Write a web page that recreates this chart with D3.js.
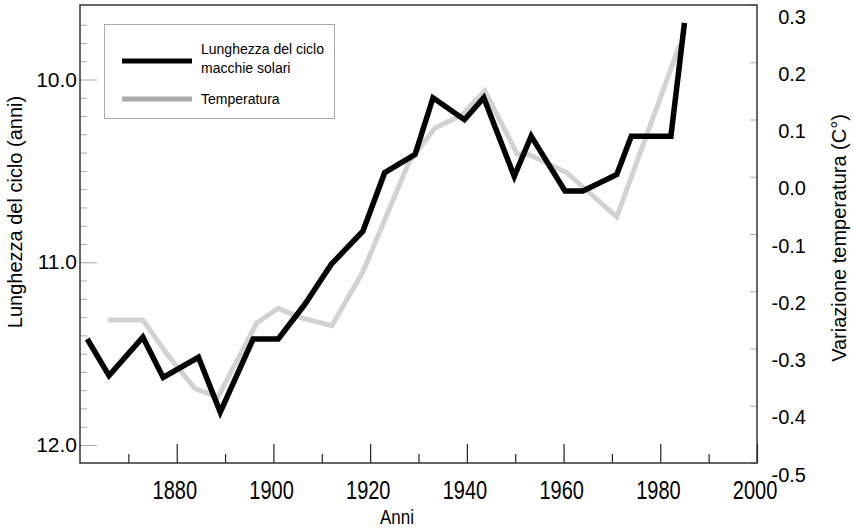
<!DOCTYPE html>
<html>
<head>
<meta charset="utf-8">
<script src="https://cdn.jsdelivr.net/npm/d3@7"></script>
<style>
  html, body { margin: 0; padding: 0; background: #fff; }
  svg { display: block; font-family: "Liberation Sans", Arial, sans-serif; }
</style>
</head>
<body>
<svg id="chart" width="854" height="530"></svg>
<script>
// ---- data ----
const cycleYears = [1861.5, 1866, 1873, 1877.2, 1884.5, 1889, 1895.8, 1901, 1906.5, 1912, 1918.5, 1923, 1929.3, 1933, 1939.5, 1943.5, 1949.8, 1953.3, 1960.3, 1964, 1971, 1974, 1982.2, 1985];
const cycleLength = [11.42, 11.62, 11.41, 11.63, 11.52, 11.82, 11.42, 11.42, 11.23, 11.01, 10.83, 10.51, 10.41, 10.10, 10.22, 10.10, 10.53, 10.31, 10.61, 10.61, 10.52, 10.31, 10.31, 9.69];

const tempYears = [1865.8, 1873, 1878, 1883.8, 1888.5, 1896.6, 1901, 1905.9, 1912.1, 1918.5, 1928, 1933.4, 1939, 1943.7, 1950.4, 1953, 1960.7, 1971, 1984];
const tempValues = [-0.25, -0.25, -0.31, -0.37, -0.385, -0.255, -0.23, -0.247, -0.26, -0.166, 0.025, 0.085, 0.108, 0.15, 0.04, 0.038, 0.007, -0.07, 0.23];

const xMajorTicks = [1880, 1900, 1920, 1940, 1960, 1980, 2000];
const xMinorTicks = [1870, 1890, 1910, 1930, 1950, 1970, 1990];
const leftMajorTicks = [10, 11, 12];
const leftMinorTicks = d3.range(97, 120).map(v => v / 10).filter(v => v % 1 !== 0);
const rightTicks = [0.3, 0.2, 0.1, 0.0, -0.1, -0.2, -0.3, -0.4, -0.5];

const legendLabels = [["Lunghezza del ciclo", "macchie solari"], ["Temperatura"]];
const xTitle = "Anni";
const leftTitle = "Lunghezza del ciclo (anni)";
const rightTitle = "Variazione temperatura (C°)";

// ---- layout ----
const L = 80, R = 757, T = 5, B = 463;
const svg = d3.select("#chart");

const x = d3.scaleLinear().domain([1860, 2000]).range([L, R]);
const yL = d3.scaleLinear().domain([10, 12]).range([79.5, 445]);
const yR = d3.scaleLinear().domain([-0.5, 0.3]).range([B, T]);

const fmt1 = d => d.toFixed(1);

// lines
const tempLine = d3.line().x((d, i) => x(tempYears[i])).y(d => yR(d));
const cycleLine = d3.line().x((d, i) => x(cycleYears[i])).y(d => yL(d));

svg.append("path").datum(tempValues)
  .attr("d", tempLine).attr("fill", "none")
  .attr("stroke", "#d2d2d2").attr("stroke-width", 5)
  .attr("stroke-linejoin", "miter");

svg.append("path").datum(cycleLength)
  .attr("d", cycleLine).attr("fill", "none")
  .attr("stroke", "#000").attr("stroke-width", 5.5)
  .attr("stroke-linejoin", "miter");

// left axis
const gLmin = svg.append("g").attr("transform", `translate(${L},0)`)
  .call(d3.axisLeft(yL).tickValues(leftMinorTicks).tickSize(-7).tickFormat(""));
const gLmaj = svg.append("g").attr("transform", `translate(${L},0)`)
  .call(d3.axisLeft(yL).tickValues(leftMajorTicks).tickSize(-17).tickPadding(3).tickFormat(fmt1));
[gLmin, gLmaj].forEach(g => {
  g.select(".domain").remove();
  g.selectAll("line").attr("stroke", "#aaa").attr("stroke-width", 1);
  g.selectAll("text").attr("font-size", 21).attr("fill", "#000");
});

// right axis
const gR = svg.append("g").attr("transform", `translate(${R},0)`)
  .call(d3.axisRight(yR).tickValues(rightTicks).tickSize(-7).tickPadding(0).tickFormat(fmt1));
gR.select(".domain").remove();
gR.selectAll("line").attr("stroke", "#aaa").attr("stroke-width", 1);
gR.selectAll("text").attr("font-size", 20).attr("fill", "#000")
  .attr("text-anchor", "end").attr("x", 49).attr("dy", "0.9em");

// bottom axis
const gBmin = svg.append("g").attr("transform", `translate(0,${B})`)
  .call(d3.axisBottom(x).tickValues(xMinorTicks).tickSize(-9).tickFormat(""));
const gBmaj = svg.append("g").attr("transform", `translate(0,${B})`)
  .call(d3.axisBottom(x).tickValues(xMajorTicks).tickSize(-19).tickPadding(18).tickFormat(d3.format("d")));
[gBmin, gBmaj].forEach(g => {
  g.select(".domain").remove();
  g.selectAll("line").attr("stroke", "#222").attr("stroke-width", 1.2);
});
gBmaj.selectAll("text").attr("font-size", 25).attr("fill", "#000")
  .attr("transform", "scale(0.8,1)").attr("x", -3);

// frame
svg.append("rect").attr("x", L).attr("y", T).attr("width", R - L).attr("height", B - T)
  .attr("fill", "none").attr("stroke", "#333").attr("stroke-width", 1.5);

// axis titles
svg.append("text").attr("x", 0).attr("y", 0).attr("text-anchor", "middle")
  .attr("font-size", 20).attr("transform", "translate(397,524) scale(0.85,1)").text(xTitle);
svg.append("text").attr("transform", "translate(22,212) rotate(-90)").attr("text-anchor", "middle")
  .attr("font-size", 20).text(leftTitle);
svg.append("text").attr("transform", "translate(846,238) rotate(-90)").attr("text-anchor", "middle")
  .attr("font-size", 20).text(rightTitle);

// legend
const lg = svg.append("g");
lg.append("rect").attr("x", 104.5).attr("y", 24.5).attr("width", 230).attr("height", 94)
  .attr("fill", "#fff").attr("stroke", "#aaa").attr("stroke-width", 1);
lg.append("line").attr("x1", 122).attr("x2", 192).attr("y1", 61).attr("y2", 61)
  .attr("stroke", "#000").attr("stroke-width", 5);
lg.append("line").attr("x1", 122).attr("x2", 192).attr("y1", 99).attr("y2", 99)
  .attr("stroke", "#aaa").attr("stroke-width", 5);
lg.append("text").attr("x", 201).attr("y", 54).attr("font-size", 14).text(legendLabels[0][0]);
lg.append("text").attr("x", 201).attr("y", 73).attr("font-size", 14).text(legendLabels[0][1]);
lg.append("text").attr("x", 201).attr("y", 104).attr("font-size", 14).text(legendLabels[1][0]);
</script>
</body>
</html>
